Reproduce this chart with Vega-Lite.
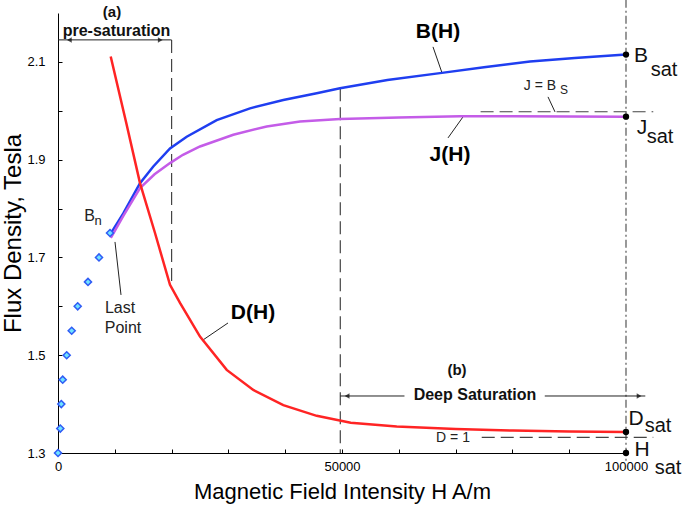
{
  "$schema": "https://vega.github.io/schema/vega-lite/v6.json",
  "width": 568,
  "height": 440,
  "autosize": "none",
  "padding": {"left": 58, "top": 13, "right": 59, "bottom": 63},
  "background": "white",
  "config": {
    "view": {"stroke": null},
    "font": "Liberation Sans",
    "axis": {"grid": false, "domainColor": "black", "tickColor": "black", "labelColor": "black", "titleColor": "black", "labelFont": "Liberation Sans", "titleFont": "Liberation Sans", "titleFontWeight": "normal"}
  },
  "datasets": {
    "bn": [
      {"x": 0, "y": 1.3}, {"x": 405, "y": 1.35}, {"x": 581, "y": 1.4}, {"x": 827, "y": 1.45},
      {"x": 1532, "y": 1.5}, {"x": 2412, "y": 1.55}, {"x": 3468, "y": 1.6}, {"x": 5282, "y": 1.65},
      {"x": 7218, "y": 1.7}, {"x": 9155, "y": 1.75}
    ],
    "curves": [
      {"curve": "B", "x": 9300, "y": 1.749}, {"curve": "B", "x": 11496, "y": 1.79}, {"curve": "B", "x": 14437, "y": 1.852},
      {"curve": "B", "x": 16778, "y": 1.886}, {"curve": "B", "x": 19718, "y": 1.923}, {"curve": "B", "x": 22659, "y": 1.947},
      {"curve": "B", "x": 27940, "y": 1.981}, {"curve": "B", "x": 33803, "y": 2.005}, {"curve": "B", "x": 39666, "y": 2.022},
      {"curve": "B", "x": 45547, "y": 2.036}, {"curve": "B", "x": 49648, "y": 2.046}, {"curve": "B", "x": 58000, "y": 2.063},
      {"curve": "B", "x": 67254, "y": 2.077}, {"curve": "B", "x": 75000, "y": 2.089}, {"curve": "B", "x": 83100, "y": 2.101},
      {"curve": "B", "x": 91000, "y": 2.108}, {"curve": "B", "x": 100000, "y": 2.115},
      {"curve": "J", "x": 9300, "y": 1.74}, {"curve": "J", "x": 11500, "y": 1.785}, {"curve": "J", "x": 14437, "y": 1.842},
      {"curve": "J", "x": 17000, "y": 1.87}, {"curve": "J", "x": 19718, "y": 1.893}, {"curve": "J", "x": 22000, "y": 1.91},
      {"curve": "J", "x": 25000, "y": 1.927}, {"curve": "J", "x": 30863, "y": 1.951}, {"curve": "J", "x": 36744, "y": 1.968},
      {"curve": "J", "x": 42613, "y": 1.978}, {"curve": "J", "x": 49648, "y": 1.983}, {"curve": "J", "x": 60000, "y": 1.986},
      {"curve": "J", "x": 70776, "y": 1.989}, {"curve": "J", "x": 80000, "y": 1.989}, {"curve": "J", "x": 100000, "y": 1.988},
      {"curve": "D", "x": 9278, "y": 2.111}, {"curve": "D", "x": 12000, "y": 1.976}, {"curve": "D", "x": 14437, "y": 1.852},
      {"curve": "D", "x": 17078, "y": 1.75}, {"curve": "D", "x": 19718, "y": 1.644}, {"curve": "D", "x": 21479, "y": 1.607},
      {"curve": "D", "x": 25000, "y": 1.538}, {"curve": "D", "x": 29701, "y": 1.47}, {"curve": "D", "x": 34385, "y": 1.429},
      {"curve": "D", "x": 39666, "y": 1.398}, {"curve": "D", "x": 45547, "y": 1.376}, {"curve": "D", "x": 51533, "y": 1.362},
      {"curve": "D", "x": 59633, "y": 1.354}, {"curve": "D", "x": 70000, "y": 1.349}, {"curve": "D", "x": 80107, "y": 1.346},
      {"curve": "D", "x": 90000, "y": 1.344}, {"curve": "D", "x": 100000, "y": 1.343}
    ],
    "dots": [
      {"x": 100000, "y": 2.115}, {"x": 100000, "y": 1.988}, {"x": 100000, "y": 1.343}, {"x": 100000, "y": 1.3}
    ],
    "dashed": [
      {"x": 20000, "y": 2.145, "x2": 20000, "y2": 1.644},
      {"x": 49700, "y": 2.046, "x2": 49700, "y2": 1.3},
      {"x": 74400, "y": 1.998, "x2": 104800, "y2": 1.998},
      {"x": 74600, "y": 1.332, "x2": 104800, "y2": 1.332}
    ],
    "dashdot": [
      {"x": 100000, "y": 2.227, "x2": 100000, "y2": 1.28}
    ],
    "solid": [
      {"x": 0, "y": 2.145, "x2": 20000, "y2": 2.145},
      {"x": 49700, "y": 1.4166, "x2": 61000, "y2": 1.4166},
      {"x": 85700, "y": 1.4166, "x2": 103400, "y2": 1.4166},
      {"x": 66022, "y": 2.1307, "x2": 67607, "y2": 2.0775},
      {"x": 68663, "y": 1.9445, "x2": 71304, "y2": 1.9875},
      {"x": 29930, "y": 1.566, "x2": 25529, "y2": 1.5312},
      {"x": 10035, "y": 1.7317, "x2": 11092, "y2": 1.6233},
      {"x": 86269, "y": 2.0284, "x2": 87502, "y2": 1.9977}
    ],
    "arrows": [
      {"x": 2000, "y": 2.145, "dir": "left"}, {"x": 18000, "y": 2.145, "dir": "right"},
      {"x": 50900, "y": 1.4166, "dir": "left"}, {"x": 102300, "y": 1.4166, "dir": "right"}
    ],
    "texts": [
      {"role": "curve", "t": "B(H)", "x": 66903, "y": 2.1614},
      {"role": "curve", "t": "J(H)", "x": 69016, "y": 1.9097},
      {"role": "curve", "t": "D(H)", "x": 34332, "y": 1.5864},
      {"role": "region", "t": "pre-saturation", "x": 10300, "y": 2.1634},
      {"role": "region", "t": "Deep Saturation", "x": 73417, "y": 1.4187},
      {"role": "tag", "t": "(a)", "x": 9507, "y": 2.202},
      {"role": "tag", "t": "(b)", "x": 70248, "y": 1.4698},
      {"role": "note", "t": "Last", "x": 10916, "y": 1.5967},
      {"role": "note", "t": "Point", "x": 11444, "y": 1.5558},
      {"role": "note", "t": "B", "x": 5546, "y": 1.7849},
      {"role": "noteSub", "t": "n", "x": 7042, "y": 1.7747},
      {"role": "sat", "t": "B", "x": 102643, "y": 2.1123},
      {"role": "sat", "t": "J", "x": 102820, "y": 1.965},
      {"role": "sat", "t": "D", "x": 101762, "y": 1.3696},
      {"role": "sat", "t": "H", "x": 102820, "y": 1.3061},
      {"role": "satSub", "t": "sat", "x": 106692, "y": 2.0836},
      {"role": "satSub", "t": "sat", "x": 105988, "y": 1.9465},
      {"role": "satSub", "t": "sat", "x": 105636, "y": 1.3552},
      {"role": "satSub", "t": "sat", "x": 107400, "y": 1.2693}
    ,
      {"role": "eq", "t": "J = B", "x": 84861, "y": 2.0509},
      {"role": "eq", "t": "D = 1", "x": 69544, "y": 1.3307},
      {"role": "eqSub", "t": "S", "x": 89086, "y": 2.0427}
    ]
  },
  "encoding": {
    "x": {
      "field": "x", "type": "quantitative",
      "scale": {"domain": [0, 100000], "nice": false, "zero": false},
      "axis": {
        "title": "Magnetic Field Intensity H A/m", "titleFontSize": 22, "titlePadding": 8,
        "values": [0, 10000, 20000, 30000, 40000, 50000, 60000, 70000, 80000, 90000, 100000],
        "labelExpr": "datum.value % 50000 == 0 ? format(datum.value, 'd') : ''",
        "labelFontSize": 13, "tickSize": -4, "labelPadding": 11, "labelFlush": false
      }
    },
    "y": {
      "field": "y", "type": "quantitative",
      "scale": {"domain": [1.3, 2.2], "nice": false, "zero": false},
      "axis": {
        "title": "Flux Density, Tesla", "titleFontSize": 24, "titlePadding": 1,
        "values": [1.3, 1.4, 1.5, 1.6, 1.7, 1.8, 1.9, 2.0, 2.1],
        "labelExpr": "indexof(['1.3','1.5','1.7','1.9','2.1'], format(datum.value, '.1f')) >= 0 ? format(datum.value, '.1f') : ''",
        "labelFontSize": 13, "tickSize": -4, "labelPadding": 17, "labelFlush": false
      }
    }
  },
  "layer": [
    {
      "data": {"name": "dashdot"},
      "mark": {"type": "rule", "color": "#555", "strokeWidth": 1.2, "strokeDash": [8, 3, 2, 3], "clip": false},
      "encoding": {"x2": {"field": "x2"}, "y2": {"field": "y2"}}
    },
    {
      "data": {"name": "dashed"},
      "mark": {"type": "rule", "color": "#444", "strokeWidth": 1.2, "strokeDash": [13, 6], "clip": false},
      "encoding": {"x2": {"field": "x2"}, "y2": {"field": "y2"}}
    },
    {
      "data": {"name": "solid"},
      "mark": {"type": "rule", "color": "#222", "strokeWidth": 1, "clip": false},
      "encoding": {"x2": {"field": "x2"}, "y2": {"field": "y2"}}
    },
    {
      "data": {"name": "arrows"},
      "mark": {"type": "point", "filled": true, "color": "black", "size": 30, "clip": false},
      "encoding": {"shape": {"field": "dir", "type": "nominal", "scale": {"domain": ["left", "right"], "range": ["triangle-left", "triangle-right"]}, "legend": null}}
    },
    {
      "data": {"name": "curves"},
      "mark": {"type": "line", "strokeWidth": 2.5, "clip": false},
      "encoding": {
        "color": {"field": "curve", "type": "nominal", "scale": {"domain": ["B", "J", "D"], "range": ["#1f3ef0", "#c45ce8", "#ff2424"]}, "legend": null},
        "order": {"field": "x", "type": "quantitative"}
      }
    },
    {
      "data": {"name": "bn"},
      "mark": {"type": "point", "shape": "diamond", "filled": true, "fill": "#6fe3ff", "stroke": "#2f5cf5", "strokeWidth": 1.5, "size": 50, "opacity": 1, "clip": false}
    },
    {
      "data": {"name": "dots"},
      "mark": {"type": "circle", "color": "black", "size": 40, "opacity": 1, "clip": false}
    },
    {
      "data": {"name": "texts"}, "transform": [{"filter": "datum.role == 'curve'"}],
      "mark": {"type": "text", "fontSize": 21, "fontWeight": "bold", "align": "center", "baseline": "middle", "color": "black"},
      "encoding": {"text": {"field": "t"}}
    },
    {
      "data": {"name": "texts"}, "transform": [{"filter": "datum.role == 'region'"}],
      "mark": {"type": "text", "fontSize": 16, "fontWeight": "bold", "align": "center", "baseline": "middle", "color": "#111"},
      "encoding": {"text": {"field": "t"}}
    },
    {
      "data": {"name": "texts"}, "transform": [{"filter": "datum.role == 'tag'"}],
      "mark": {"type": "text", "fontSize": 15, "fontWeight": "bold", "align": "center", "baseline": "middle", "color": "#111"},
      "encoding": {"text": {"field": "t"}}
    },
    {
      "data": {"name": "texts"}, "transform": [{"filter": "datum.role == 'note'"}],
      "mark": {"type": "text", "fontSize": 16, "align": "center", "baseline": "middle", "color": "#222"},
      "encoding": {"text": {"field": "t"}}
    },
    {
      "data": {"name": "texts"}, "transform": [{"filter": "datum.role == 'noteSub'"}],
      "mark": {"type": "text", "fontSize": 13, "align": "center", "baseline": "middle", "color": "#222"},
      "encoding": {"text": {"field": "t"}}
    },
    {
      "data": {"name": "texts"}, "transform": [{"filter": "datum.role == 'sat'"}],
      "mark": {"type": "text", "fontSize": 21, "align": "center", "baseline": "middle", "color": "#111"},
      "encoding": {"text": {"field": "t"}}
    },
    {
      "data": {"name": "texts"}, "transform": [{"filter": "datum.role == 'satSub'"}],
      "mark": {"type": "text", "fontSize": 20, "align": "center", "baseline": "middle", "color": "#111"},
      "encoding": {"text": {"field": "t"}}
    },
    {
      "data": {"name": "texts"}, "transform": [{"filter": "datum.role == 'eq'"}],
      "mark": {"type": "text", "fontSize": 14, "align": "center", "baseline": "middle", "color": "#222"},
      "encoding": {"text": {"field": "t"}}
    },
    {
      "data": {"name": "texts"}, "transform": [{"filter": "datum.role == 'eqSub'"}],
      "mark": {"type": "text", "fontSize": 12, "align": "center", "baseline": "middle", "color": "#222"},
      "encoding": {"text": {"field": "t"}}
    }
  ]
}
